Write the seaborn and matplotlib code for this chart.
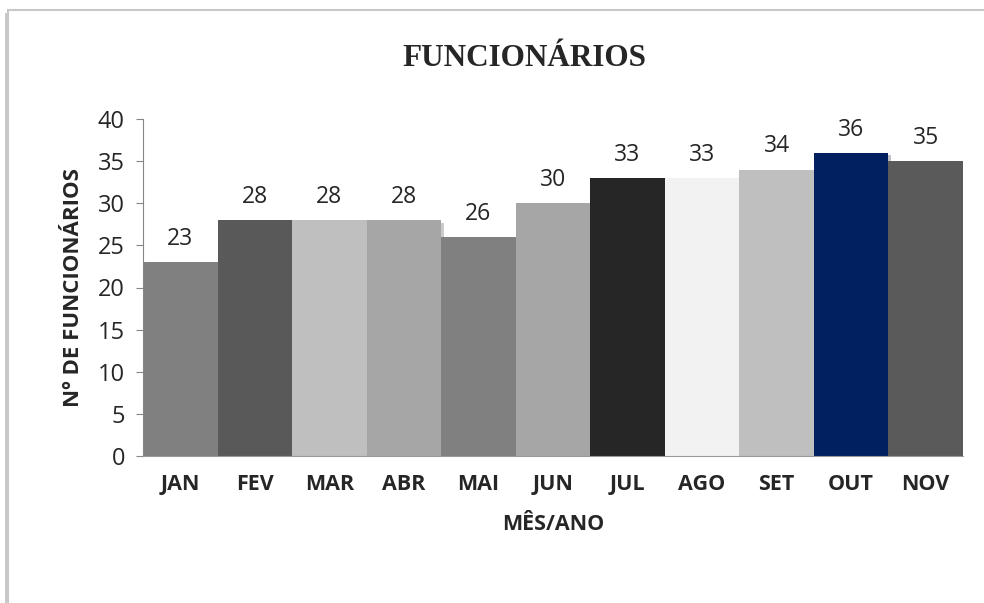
import pandas as pd
import matplotlib.pyplot as plt
import matplotlib.patheffects as pe
from matplotlib.patches import Rectangle
import seaborn as sns

sns.set_style("white")
plt.rcParams['font.family'] = ['Open Sans', 'DejaVu Sans']

meses = ["JAN", "FEV", "MAR", "ABR", "MAI", "JUN", "JUL", "AGO", "SET", "OUT", "NOV"]
funcionarios = [23, 28, 28, 28, 26, 30, 33, 33, 34, 36, 35]
cores = ["#808080", "#595959", "#bfbfbf", "#a6a6a6", "#808080", "#a6a6a6",
         "#262626", "#f2f2f2", "#bfbfbf", "#002060", "#5a5a5a"]

df = pd.DataFrame({"mes": meses, "qtd": funcionarios})

fig = plt.figure(figsize=(9.84, 6.03), dpi=100)

# moldura do grafico
moldura = Rectangle((8 / 984, -0.05), 1.1, 1 - 10 / 603 + 0.05, transform=fig.transFigure,
                    facecolor="white", edgecolor="#c8c8c8", linewidth=1.5, zorder=-1,
                    path_effects=[pe.SimplePatchShadow(offset=(-2, -2), alpha=0.3), pe.Normal()])
fig.patches.append(moldura)

ax = fig.add_axes([143 / 984, 1 - 456 / 603, (963 - 143) / 984, (456 - 119) / 603])
ax.patch.set_alpha(0)

sns.barplot(data=df, x="mes", y="qtd", hue="mes", palette=cores, width=1.0,
            legend=False, saturation=1, linewidth=0, ax=ax)

for barra in ax.patches:
    barra.set_path_effects([pe.SimplePatchShadow(offset=(2, -2), alpha=0.25), pe.Normal()])

for c in ax.containers:
    ax.bar_label(c, padding=8, fontsize=16.5)

ax.set_ylim(0, 40)
ax.set_yticks(range(0, 41, 5))
ax.set_xlim(-0.5, len(meses) - 0.5)
ax.tick_params(axis="y", labelsize=17, length=5, color="#868686", left=True, pad=8)
ax.tick_params(axis="x", labelsize=15.5, length=0, pad=13)
for lbl in ax.get_xticklabels():
    lbl.set_fontweight("bold")

for lado in ["top", "right"]:
    ax.spines[lado].set_visible(False)
ax.spines["left"].set_color("#868686")
ax.spines["bottom"].set_color("#9a9a9a")

fig.text(524 / 984, 1 - 58 / 603, "FUNCIONÁRIOS", fontsize=22.5, fontweight="bold",
         family="Liberation Serif", ha="center", va="center")
ax.set_xlabel("MÊS/ANO", fontsize=15.5, fontweight="bold", labelpad=14)
ax.set_ylabel("Nº DE FUNCIONÁRIOS", fontsize=16, fontweight="bold", labelpad=10)

fig.savefig("out.png", dpi=100)
